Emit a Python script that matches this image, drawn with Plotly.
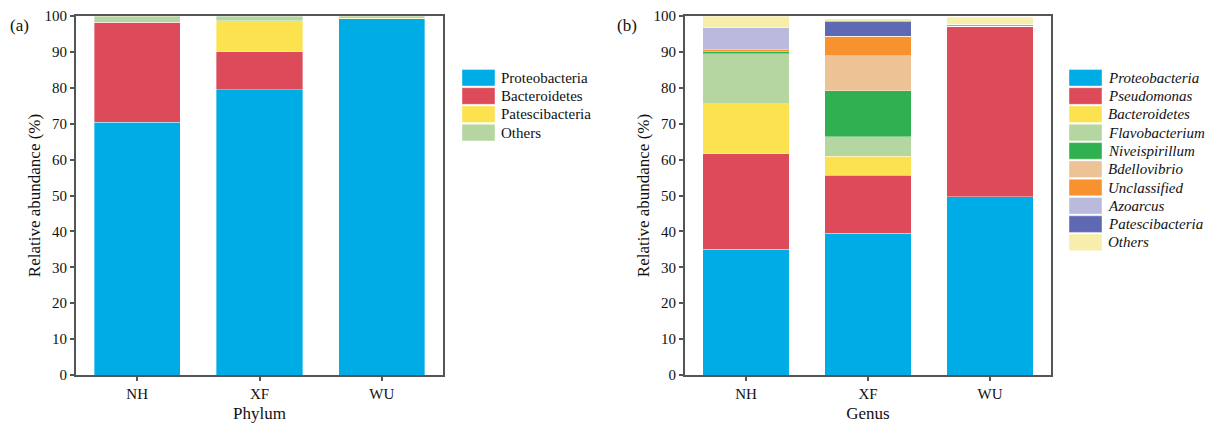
import plotly.graph_objects as go

W, H = 1210, 426

samples = ["NH", "XF", "WU"]

# Panel (a) – phylum level (%)
phylum_names = ["Proteobacteria", "Bacteroidetes", "Patescibacteria", "Others"]
phylum_colors = ["#00ACE5", "#DD4A5A", "#FDE24F", "#B5D6A0"]
phylum_proteobacteria = [70.4, 79.5, 99.2]
phylum_bacteroidetes = [27.8, 10.5, 0.1]
phylum_patescibacteria = [0.0, 8.7, 0.1]
phylum_others = [1.8, 1.3, 0.6]
phylum_values = [phylum_proteobacteria, phylum_bacteroidetes,
                 phylum_patescibacteria, phylum_others]

# Panel (b) – genus level (%)
genus_names = ["Proteobacteria", "Pseudomonas", "Bacteroidetes", "Flavobacterium",
               "Niveispirillum", "Bdellovibrio", "Unclassified", "Azoarcus",
               "Patescibacteria", "Others"]
genus_colors = ["#00ACE5", "#DD4A5A", "#FDE24F", "#B5D6A0", "#30B050",
                "#EDC395", "#F7922F", "#BABBDC", "#5F69B3", "#F6EEAA"]
genus_proteobacteria = [35.0, 39.5, 49.6]
genus_pseudomonas = [26.6, 16.1, 47.5]
genus_bacteroidetes = [14.0, 5.4, 0.0]
genus_flavobacterium = [13.9, 5.4, 0.0]
genus_niveispirillum = [0.5, 12.8, 0.0]
genus_bdellovibrio = [0.0, 9.7, 0.0]
genus_unclassified = [0.6, 5.4, 0.6]
genus_azoarcus = [6.3, 0.0, 0.0]
genus_patescibacteria = [0.0, 4.2, 0.0]
genus_others = [3.1, 0.8, 2.0]
genus_values = [genus_proteobacteria, genus_pseudomonas, genus_bacteroidetes,
                genus_flavobacterium, genus_niveispirillum, genus_bdellovibrio,
                genus_unclassified, genus_azoarcus, genus_patescibacteria, genus_others]

y_ticks = [0, 10, 20, 30, 40, 50, 60, 70, 80, 90, 100]

FONT = "Liberation Serif, Times New Roman, serif"
AXC = "#555555"

fig = go.Figure()
for name, col, vals in zip(phylum_names, phylum_colors, phylum_values):
    fig.add_trace(go.Bar(x=samples, y=vals, name=name, marker_color=col,
                         marker_line=dict(color="rgba(255,255,255,0.6)", width=0.6),
                         xaxis="x", yaxis="y", showlegend=False))
for name, col, vals in zip(genus_names, genus_colors, genus_values):
    fig.add_trace(go.Bar(x=samples, y=vals, name=name, marker_color=col,
                         marker_line=dict(color="rgba(255,255,255,0.6)", width=0.6),
                         xaxis="x2", yaxis="y2", showlegend=False))

def px_x(p):
    return p / W

def px_y(p):
    return 1 - p / H

yd = [px_y(375), px_y(16)]
axis_common = dict(showline=True, linecolor=AXC, linewidth=2, mirror=True,
                   ticks="outside", ticklen=4, tickwidth=1.5, tickcolor=AXC,
                   tickfont=dict(family=FONT, size=15, color="#111"),
                   showgrid=False, zeroline=False, automargin=False)
TITLE_FONT = dict(family=FONT, size=17, color="#111")

fig.update_layout(
    template="none",
    width=W, height=H, margin=dict(l=0, r=0, t=0, b=0, pad=0),
    paper_bgcolor="white", plot_bgcolor="white",
    barmode="stack", bargap=0.295,
    font=dict(family=FONT, size=15, color="#111"),
    xaxis=dict(domain=[px_x(76), px_x(443)], anchor="y", range=[-0.5, 2.5],
               title=dict(text="Phylum", font=TITLE_FONT, standoff=6),
               **axis_common),
    yaxis=dict(domain=yd, anchor="x", range=[0, 100], tickvals=y_ticks,
               title=dict(text="Relative abundance (%)", font=TITLE_FONT, standoff=0),
               **axis_common),
    xaxis2=dict(domain=[px_x(685), px_x(1051)], anchor="y2", range=[-0.5, 2.5],
                title=dict(text="Genus", font=TITLE_FONT, standoff=6),
                **axis_common),
    yaxis2=dict(domain=yd, anchor="x2", range=[0, 100], tickvals=y_ticks,
                title=dict(text="Relative abundance (%)", font=TITLE_FONT, standoff=0),
                **axis_common),
)

annotations = [
    dict(text="(a)", x=px_x(8), y=px_y(26), xref="paper", yref="paper",
         xanchor="left", yanchor="middle", showarrow=False, font=dict(family=FONT, size=17)),
    dict(text="(b)", x=px_x(615), y=px_y(26), xref="paper", yref="paper",
         xanchor="left", yanchor="middle", showarrow=False, font=dict(family=FONT, size=17)),
]
shapes = []

def add_legend(names, colors, x0, y0, italic):
    step = 18.3
    for i, (n, c) in enumerate(zip(names, colors)):
        cy = y0 + i * step
        shapes.append(dict(type="rect", xref="paper", yref="paper",
                           x0=px_x(x0), x1=px_x(x0 + 33), y0=px_y(cy + 8.3), y1=px_y(cy - 8.3),
                           fillcolor=c, line=dict(color="rgba(255,255,255,0.7)", width=0.6)))
        txt = f"<i>{n}</i>" if italic else n
        annotations.append(dict(text=txt, x=px_x(x0 + 37), y=px_y(cy), xref="paper", yref="paper",
                                xanchor="left", yanchor="middle", showarrow=False,
                                font=dict(family=FONT, size=15, color="#111")))

add_legend(phylum_names, phylum_colors, 462, 77.7, False)
add_legend(genus_names, genus_colors, 1069, 77.7, True)

fig.update_layout(annotations=annotations, shapes=shapes)
fig.write_html("out.html")
